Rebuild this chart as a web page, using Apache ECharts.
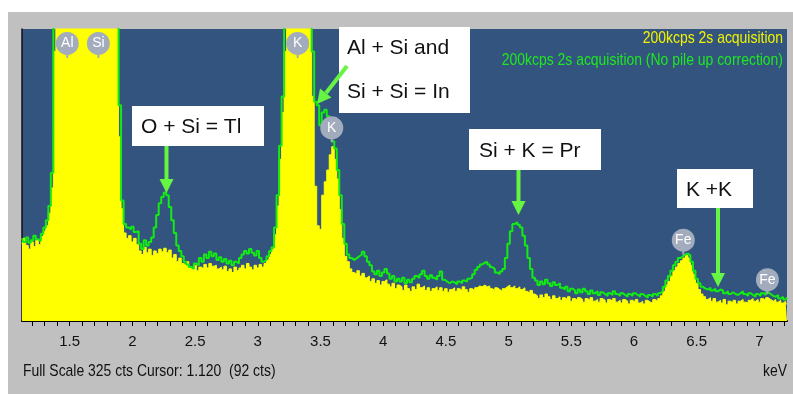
<!DOCTYPE html>
<html>
<head>
<meta charset="utf-8">
<script src="https://cdn.jsdelivr.net/npm/echarts@6/dist/echarts.min.js"></script>
<style>
  html, body { margin: 0; padding: 0; background: #fff; }
  #chart { width: 793px; height: 394px; }
</style>
</head>
<body>
<div id="chart"></div>
<script>
// channel calibration: first channel energy and width (keV)
var startKeV = 1.12;
var stepKeV = 0.02;

// 200kcps 2s acquisition (pile up corrected), counts per channel
var corrected = [
  86, 92, 84, 80, 88, 83, 90, 85, 94, 100,
  106, 120, 148, 300, 520, 780, 1080, 1320, 1480, 1540,
  1460, 1230, 930, 680, 460, 335, 385, 600, 980, 1380,
  1680, 2580, 3180, 2980, 2280, 1480, 880, 540, 360, 205,
  125, 98, 92, 95, 88, 92, 85, 78, 74, 82,
  76, 80, 73, 78, 75, 80, 77, 81, 76, 79,
  70, 74, 66, 70, 64, 62, 66, 60, 58, 62,
  56, 60, 58, 63, 59, 64, 61, 62, 58, 60,
  57, 61, 55, 58, 54, 60, 56, 59, 62, 58,
  64, 60, 57, 62, 59, 63, 60, 64, 68, 74,
  80, 96, 128, 180, 232, 300, 480, 760, 1100, 1400,
  1560, 1540, 1300, 960, 660, 420, 250, 150, 106, 102,
  140, 155, 168, 185, 194, 180, 158, 124, 92, 72,
  66, 58, 54, 52, 56, 50, 53, 48, 50, 44,
  47, 42, 45, 40, 44, 46, 41, 38, 42, 36,
  40, 38, 34, 40, 36, 33, 38, 35, 41, 37,
  39, 34, 37, 33, 36, 38, 34, 37, 33, 36,
  32, 35, 37, 33, 36, 34, 38, 35, 32, 36,
  34, 37, 39, 38, 40, 38, 39, 36, 34, 37,
  35, 33, 36, 38, 40, 37, 39, 36, 38, 35,
  37, 33, 31, 34, 30, 28, 25, 29, 26, 30,
  27, 24, 28, 25, 27, 23, 26, 24, 27, 22,
  25, 23, 26, 24, 21, 25, 23, 26, 22, 24,
  21, 25, 23, 20, 24, 22, 25, 21, 23, 20,
  24, 22, 19, 23, 21, 24, 20, 22, 19, 23,
  21, 20, 24, 22, 25, 28, 33, 40, 44, 50,
  56, 60, 64, 67, 70, 73, 70, 62, 52, 42,
  35, 30, 27, 24, 26, 22, 25, 21, 23, 20,
  24, 18, 22, 20, 23, 19, 22, 24, 21, 20,
  23, 25, 22, 24, 21, 25, 23, 26, 24, 22,
  24, 21, 23, 20, 22, 19
];

// 200kcps 2s acquisition (No pile up correction)
var uncorrected = [
  92, 88, 93, 87, 90, 95, 91, 89, 97, 104,
  112, 128, 165, 380, 580, 820, 1100, 1350, 1500, 1560,
  1480, 1250, 950, 700, 480, 345, 400, 620, 1000, 1400,
  1700, 2600, 3200, 3000, 2300, 1500, 900, 560, 380, 240,
  134, 108, 104, 102, 105, 99, 100, 86, 80, 90,
  84, 88, 93, 104, 118, 131, 138, 143, 140, 127,
  112, 98, 84, 78, 72, 66, 63, 60, 58, 64,
  62, 70, 66, 74, 70, 77, 72, 75, 68, 71,
  66, 69, 64, 67, 62, 66, 64, 70, 74, 78,
  75, 80, 76, 73, 78, 70, 66, 68, 72, 78,
  82, 104, 140, 195, 250, 360, 520, 800, 1150, 1450,
  1600, 1580, 1350, 1000, 700, 470, 300, 244, 240, 218,
  232, 235, 228, 222, 200, 192, 168, 140, 108, 86,
  74, 70, 68, 70, 72, 74, 77, 72, 66, 62,
  55, 52, 56, 50, 54, 58, 53, 47, 50, 44,
  47, 44, 48, 42, 46, 43, 47, 50, 48, 52,
  56, 50, 47, 51, 48, 46, 50, 55, 46, 44,
  42, 44, 43, 41, 44, 42, 45, 44, 47, 48,
  52, 57, 60, 63, 65, 66, 63, 60, 58, 54,
  52, 55, 58, 70, 86, 100, 108, 110, 107, 104,
  95, 84, 70, 58, 48, 45, 40, 44, 41, 46,
  42, 39, 43, 40, 42, 37, 35, 38, 33, 36,
  34, 31, 35, 32, 36, 33, 30, 34, 31, 33,
  29, 32, 30, 28, 31, 29, 33, 30, 28, 31,
  29, 27, 30, 28, 31, 29, 27, 30, 28, 26,
  29, 27, 30, 28, 31, 33, 38, 45, 50, 56,
  62, 66, 70, 72, 74, 75, 73, 66, 56, 47,
  42, 38, 36, 35, 37, 34, 36, 33, 35, 34,
  31, 33, 30, 32, 30, 29, 31, 33, 30, 28,
  31, 29, 27, 30, 28, 31, 29, 32, 30, 28,
  27, 29, 25, 27, 24, 26
];

var tickLabels = [1.5, 2, 2.5, 3, 3.5, 4, 4.5, 5, 5.5, 6, 6.5, 7];
var tickMarks = [
  1.2, 1.3, 1.4, 1.5, 1.6, 1.7, 1.8, 1.9, 2.0, 2.1, 2.2, 2.3, 2.4, 2.5, 2.6, 2.7,
  2.8, 2.9, 3.0, 3.1, 3.2, 3.3, 3.4, 3.5, 3.6, 3.7, 3.8, 3.9, 4.0, 4.1, 4.2, 4.3,
  4.4, 4.5, 4.6, 4.7, 4.8, 4.9, 5.0, 5.1, 5.2, 5.3, 5.4, 5.5, 5.6, 5.7, 5.8, 5.9,
  6.0, 6.1, 6.2, 6.3, 6.4, 6.5, 6.6, 6.7, 6.8, 6.9, 7.0, 7.1, 7.2
];

// element markers (keV, counts)
var elementNames = ['Al', 'Si', 'K', 'K', 'Fe', 'Fe'];
var elementKeV = [1.481, 1.729, 3.318, 3.59, 6.393, 7.064];
var elementCts = [309, 309, 309, 215, 90, 46];

var sans = '"Liberation Sans", Arial, sans-serif';

function toPairs(counts) {
    return counts.map(function (c, i) {
        return [+(startKeV + i * stepKeV).toFixed(3), c];
    });
}

var markers = elementNames.map(function (n, i) {
    return { name: n, coord: [elementKeV[i], elementCts[i]] };
});

var arrowColor = '#66f542';

// condensed text, like the instrument's narrow font
function narrowText(text, x, y, color, align) {
    return { type: 'text', x: x, y: y, scaleX: 0.82, z: 50,
        style: { text: text, x: 0, y: 0, fill: color, fontSize: 17, fontFamily: sans,
            align: align, textAlign: align, verticalAlign: 'middle', textVerticalAlign: 'middle' } };
}
function box(x, y, w, h) {
    return { type: 'rect', shape: { x: x, y: y, width: w, height: h }, style: { fill: '#fff' }, z: 100 };
}
function label(text, x, y) {
    return { type: 'text', z: 101, style: { text: text, x: x, y: y, fill: '#111', fontSize: 21, fontFamily: sans,
        verticalAlign: 'middle', textVerticalAlign: 'middle' } };
}
function downArrow(x, y0, y1) {
    return [
        { type: 'rect', z: 100, shape: { x: x - 2, y: y0, width: 4, height: y1 - y0 - 12 }, style: { fill: arrowColor } },
        { type: 'polygon', z: 100, shape: { points: [[x - 7, y1 - 14], [x + 7, y1 - 14], [x, y1]] }, style: { fill: arrowColor } }
    ];
}

var chart = echarts.init(document.getElementById('chart'));

var option = {
    backgroundColor: '#c0c0c0',
    animation: false,
    grid: { left: 22, right: 6, top: 29, bottom: 73, show: true, backgroundColor: '#32547f', borderWidth: 0 },
    xAxis: {
        type: 'value',
        min: 1.12,
        max: 7.22,
        splitLine: { show: false },
        axisLine: { show: true, onZero: false, lineStyle: { color: '#000', width: 2 } },
        axisTick: { show: true, length: 5, customValues: tickMarks, lineStyle: { color: '#000' } },
        axisLabel: { customValues: tickLabels, color: '#111', fontSize: 15, fontFamily: sans, margin: 13 }
    },
    yAxis: {
        type: 'value',
        min: 0,
        max: 325,
        splitLine: { show: false },
        axisLabel: { show: false },
        axisTick: { show: false },
        axisLine: { show: true, lineStyle: { color: '#111', width: 1.5 } }
    },
    series: [
        {
            name: '200kcps 2s acquisition',
            type: 'line',
            step: 'middle',
            symbol: 'none',
            data: toPairs(corrected),
            lineStyle: { width: 1, color: '#ffff00' },
            areaStyle: { color: '#ffff00', opacity: 1 },
            z: 2
        },
        {
            name: '200kcps 2s acquisition (No pile up correction)',
            type: 'line',
            step: 'middle',
            symbol: 'none',
            data: toPairs(uncorrected),
            lineStyle: { width: 2, color: '#12ec12' },
            z: 3,
            markPoint: {
                symbol: 'path://M0,12 A12,12 0 1,1 24,12 A12,12 0 1,1 0,12 Z M11,23 L13,23 L13,27 L11,27 Z',
                symbolSize: [23, 26],
                symbolOffset: [0, 1.5],
                itemStyle: { color: '#a2acbd' },
                label: { show: true, formatter: '{b}', color: '#fff', fontSize: 14, fontFamily: sans, offset: [0, -1.5] },
                data: markers
            }
        }
    ],
    graphic: [
        { type: 'rect', shape: { x: 0, y: 0, width: 793, height: 12 }, style: { fill: '#fff' } },
        { type: 'rect', shape: { x: 0, y: 0, width: 8, height: 394 }, style: { fill: '#fff' } },
        narrowText('200kcps 2s acquisition', 783, 38, '#f2f200', 'right'),
        narrowText('200kcps 2s acquisition (No pile up correction)', 783, 60, '#1fe81f', 'right'),
        narrowText('Full Scale 325 cts Cursor: 1.120  (92 cts)', 23, 371, '#111', 'left'),
        narrowText('keV', 787, 371, '#111', 'right'),

        box(132, 106, 132, 40),
        label('O + Si = Tl', 141, 127),
        box(339, 27, 131, 86),
        label('Al + Si and', 347, 48),
        label('Si + Si = In', 347, 92),
        box(469, 129, 132, 41),
        label('Si + K = Pr', 479, 151),
        box(677, 169, 76, 39),
        label('K +K', 686, 190),

        { type: 'line', z: 100, shape: { x1: 347, y1: 66, x2: 326, y2: 93 }, style: { stroke: arrowColor, lineWidth: 4 } },
        { type: 'polygon', z: 100, shape: { points: [[331.5, 97.5], [320, 88.5], [317, 104]] }, style: { fill: arrowColor } }
    ].concat(downArrow(166.5, 146, 193), downArrow(518.5, 170, 215), downArrow(718, 208, 287))
};

chart.setOption(option);
</script>
</body>
</html>
